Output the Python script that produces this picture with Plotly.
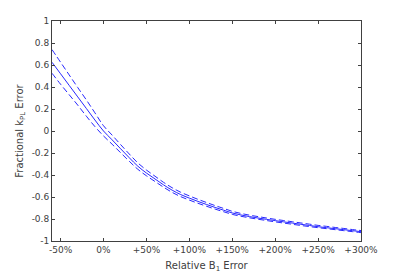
import plotly.graph_objects as go

b1_error = [-60, -50, -40, -30, -20, -10, 0, 10, 20, 30, 40, 50, 60, 70, 80, 90, 100,
            110, 120, 130, 140, 150, 160, 170, 180, 190, 200, 210, 220, 230, 240, 250,
            260, 270, 280, 290, 300]

kpl_center = [0.625, 0.52, 0.415, 0.31, 0.205, 0.10, 0.0, -0.08, -0.162, -0.243, -0.32,
              -0.382, -0.436, -0.49, -0.538, -0.578, -0.61, -0.64, -0.668, -0.695, -0.72,
              -0.745, -0.763, -0.778, -0.791, -0.803, -0.815, -0.826, -0.837, -0.848, -0.859,
              -0.87, -0.879, -0.888, -0.897, -0.906, -0.915]

kpl_upper = [0.74, 0.625, 0.51, 0.395, 0.283, 0.165, 0.048, -0.037, -0.124, -0.209, -0.29,
             -0.355, -0.411, -0.467, -0.516, -0.557, -0.59, -0.621, -0.65, -0.678, -0.704,
             -0.73, -0.749, -0.765, -0.778, -0.791, -0.803, -0.814, -0.825, -0.836, -0.847,
             -0.858, -0.867, -0.877, -0.886, -0.896, -0.905]

kpl_lower = [0.525, 0.425, 0.33, 0.235, 0.135, 0.04, -0.045, -0.12, -0.198, -0.275, -0.348,
             -0.407, -0.459, -0.511, -0.558, -0.597, -0.628, -0.657, -0.684, -0.71, -0.734,
             -0.758, -0.775, -0.789, -0.802, -0.814, -0.826, -0.837, -0.848, -0.859, -0.869,
             -0.879, -0.888, -0.897, -0.906, -0.915, -0.924]

x_tickvals = [-50, 0, 50, 100, 150, 200, 250, 300]
x_ticktext = ["-50%", "0%", "+50%", "+100%", "+150%", "+200%", "+250%", "+300%"]
y_tickvals = [1, 0.8, 0.6, 0.4, 0.2, 0, -0.2, -0.4, -0.6, -0.8, -1]
y_ticktext = ["1", "0.8", "0.6", "0.4", "0.2", "0", "-0.2", "-0.4", "-0.6", "-0.8", "-1"]

blue = "rgb(40,40,255)"
fig = go.Figure()
fig.add_trace(go.Scatter(x=b1_error, y=kpl_upper, mode="lines", line_shape="spline",
                         line=dict(color=blue, width=1, dash="6px,3px")))
fig.add_trace(go.Scatter(x=b1_error, y=kpl_center, mode="lines", line_shape="spline",
                         line=dict(color=blue, width=1)))
fig.add_trace(go.Scatter(x=b1_error, y=kpl_lower, mode="lines", line_shape="spline",
                         line=dict(color=blue, width=1, dash="6px,3px")))

axis_color = "#404040"
fig.update_layout(
    width=400, height=274,
    margin=dict(l=52, r=39, t=21, b=33, autoexpand=False),
    paper_bgcolor="white", plot_bgcolor="white",
    showlegend=False,
    font=dict(family="DejaVu Sans", size=9, color="#404040"),
    xaxis=dict(range=[-60, 300], tickvals=x_tickvals, ticktext=x_ticktext, automargin=False,
               showgrid=False, zeroline=False, showline=True, linecolor=axis_color,
               linewidth=1, mirror="ticks", ticks="inside", ticklen=3, tickcolor=axis_color,
               tickfont=dict(size=9, color="#404040"),
               title=dict(text="Relative B<sub>1</sub> Error", font=dict(size=10, color="#404040"),
                          standoff=8)),
    yaxis=dict(range=[-1, 1], tickvals=y_tickvals, ticktext=y_ticktext, automargin=False,
               showgrid=False, zeroline=False, showline=True, linecolor=axis_color,
               linewidth=1, mirror="ticks", ticks="inside", ticklen=3, tickcolor=axis_color,
               tickfont=dict(size=9, color="#404040"),
               title=dict(text="Fractional k<sub>PL</sub> Error", font=dict(size=10, color="#404040"),
                          standoff=6)),
)

fig.write_html("out.html", config={"displayModeBar": False},
               post_script="document.body.style.margin='0px';document.body.style.overflow='hidden';")
